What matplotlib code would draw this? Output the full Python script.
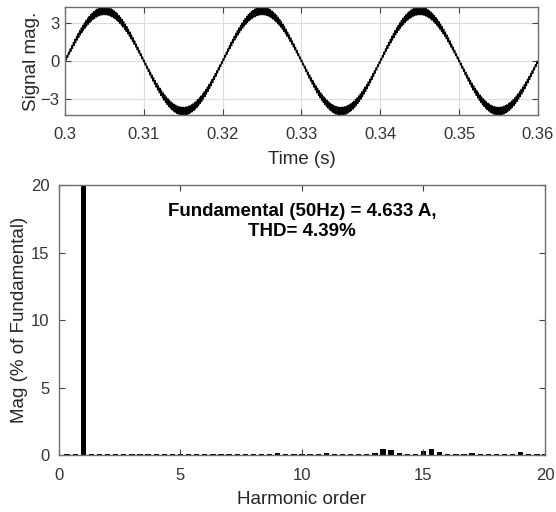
import numpy as np
import matplotlib.pyplot as plt

plt.rcParams['font.family'] = ['Liberation Sans', 'DejaVu Sans']

# waveform parameters (current with switching ripple)
t_start, t_stop = 0.3, 0.36
f_fund = 50.0
fund_amp = 4.0
ripple_peak = 0.32
ripple_zero = 0.12
f_sw = 5000.0

# FFT spectrum, bins every 1/3 harmonic from 0 to 20 (% of fundamental)
harm_order = [k / 3 for k in range(61)]
harm_mag = [
    0.02, 0.04, 0.04, 100.0, 0.04, 0.04, 0.04, 0.04, 0.04, 0.10,   # 0 .. 3
    0.04, 0.04, 0.04, 0.04, 0.04, 0.05, 0.04, 0.04, 0.04, 0.04,    # 3.33 .. 6.33
    0.04, 0.04, 0.04, 0.04, 0.04, 0.05, 0.10, 0.15, 0.04, 0.04,    # 6.67 .. 9.67
    0.04, 0.04, 0.05, 0.15, 0.05, 0.04, 0.04, 0.05, 0.07, 0.15,    # 10 .. 13
    0.45, 0.35, 0.12, 0.07, 0.10, 0.30, 0.45, 0.25, 0.08, 0.04,    # 13.33 .. 16.33
    0.04, 0.15, 0.04, 0.04, 0.04, 0.10, 0.04, 0.20, 0.04, 0.04,    # 16.67 .. 19.67
    0.04,                                                          # 20
]
bin_width = 0.22

fund_label = 'Fundamental (50Hz) = 4.633 A,\nTHD= 4.39%'

label_gray = '#262626'
tick_gray = '#333333'

t = np.arange(t_start, t_stop + 1e-9, 2e-6)
phase = 2 * np.pi * f_fund * (t - t_start)
envelope = ripple_zero + (ripple_peak - ripple_zero) * np.abs(np.sin(phase))
signal = fund_amp * np.sin(phase) + envelope * np.sin(2 * np.pi * f_sw * t)

fig = plt.figure(figsize=(5.56, 5.12), dpi=100)

# signal in time
ax1 = fig.add_axes([0.1169, 0.7754, 0.8507, 0.2109])
ax1.plot(t, signal, color='black', linewidth=0.8)
ax1.set_xlim(t_start, t_stop)
ax1.set_ylim(-4.3, 4.3)
ax1.set_xticks([0.3, 0.31, 0.32, 0.33, 0.34, 0.35, 0.36])
ax1.set_xticklabels(['0.3', '0.31', '0.32', '0.33', '0.34', '0.35', '0.36'])
ax1.set_yticks([-3, 0, 3])
ax1.grid(True, color='#dcdcdc', linewidth=0.8)
ax1.set_axisbelow(True)

# harmonic spectrum
ax2 = fig.add_axes([0.1061, 0.1113, 0.8741, 0.5273])
ax2.bar(harm_order, harm_mag, width=bin_width, color='black', edgecolor='none')
ax2.set_xlim(0, 20)
ax2.set_ylim(0, 20)
ax2.set_xticks([0, 5, 10, 15, 20])
ax2.set_yticks([0, 5, 10, 15, 20])
ax2.text(10, 17.3, fund_label, ha='center', va='center', fontsize=13.5,
         fontweight='bold', linespacing=1.3)

for ax in (ax1, ax2):
    for sp in ax.spines.values():
        sp.set_color('#6e6e6e')
        sp.set_linewidth(1.0)
    ax.tick_params(direction='in', length=4, width=0.8, color='#404040',
                   top=True, right=True, labelsize=12, labelcolor=tick_gray)
    ax.tick_params(axis='x', pad=9)
ax1.tick_params(axis='y', pad=4)
ax2.tick_params(axis='y', pad=7)

ax1.set_xlabel('Time (s)', fontsize=13.5, color=label_gray, labelpad=6)
ax1.set_ylabel('Signal mag.', fontsize=13.5, color=label_gray, labelpad=0)
ax2.set_xlabel('Harmonic order', fontsize=13.5, color=label_gray, labelpad=6)
ax2.set_ylabel('Mag (% of Fundamental)', fontsize=13.5, color=label_gray, labelpad=2)

fig.savefig('out.png', dpi=100)
